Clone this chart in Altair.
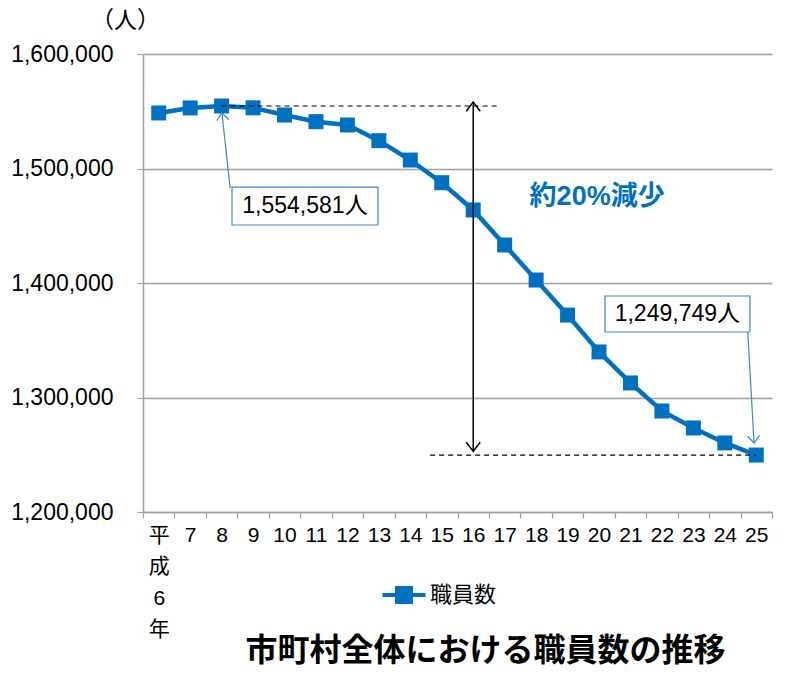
import altair as alt
import pandas as pd

# ---- data ----
years = ["6", "7", "8", "9", "10", "11", "12", "13", "14", "15",
         "16", "17", "18", "19", "20", "21", "22", "23", "24", "25"]
staff = [1548500, 1552900, 1554581, 1553000, 1546700, 1540900, 1538000,
         1524300, 1507400, 1487600, 1463800, 1433200, 1402600, 1372000,
         1339800, 1312700, 1288200, 1273400, 1260300, 1249749]
series_name = "職員数"
y_ticks = [1200000, 1300000, 1400000, 1500000, 1600000]

# annotation geometry (x in band units 0..20, y in persons)
dash_x = [2.5, 9.13]
dash_x2 = [11.35, 19.5]
dash_y = [1554581, 1249749]

varrow_x = [10.5]
varrow_y = [1558000]
varrow_y2 = [1253000]

head_x = [10.5, 10.5, 2.51, 19.43]
head_y = [1558000, 1253000, 1548470, 1260240]
head_angle = [0, 180, 354, 176]
head_kind = ["black", "black", "blue", "blue"]

call_x = [2.77, 19.23]
call_y = [1482960, 1357000]
call_x2 = [2.51, 19.43]
call_y2 = [1548470, 1260240]

box_x = [2.83, 14.69]
box_x2 = [7.47, 19.30]
box_y = [1483800, 1388640]
box_y2 = [1450650, 1357200]
box_text = ["1,554,581人", "1,249,749人"]
box_tx = [5.15, 16.99]
box_ty = [1467000, 1372900]

note_text = ["約20%減少"]
note_x = [14.44]
note_y = [1475100]

blue = "#0070C0"
cblue = "#3a87c8"
grid = "#a0a0a0"
FONT = "Liberation Sans, Noto Sans CJK JP"

W, H = 629, 458

df = pd.DataFrame({"year": years, "staff": staff, "series": series_name})

xband = alt.Scale(type="band", paddingInner=0, paddingOuter=0, domain=years)
yscale = alt.Scale(domain=[1200000, 1600000], nice=False, zero=False)

x_axis = alt.Axis(title=None, labelAngle=0, tickBand="extent",
                  labelExpr="datum.value == '6' ? ['平','成','6','年'] : datum.label",
                  labelFontSize=21, labelFont=FONT,
                  labelColor="black", labelLineHeight=31.5, labelPadding=6,
                  tickSize=6, tickColor=grid, domainColor=grid, domainWidth=1.5,
                  tickWidth=1.2, grid=False, labelBaseline="top")
y_axis = alt.Axis(values=y_ticks, format=",.0f", labelFontSize=23, labelFont=FONT,
                  labelColor="black", labelPadding=24, tickSize=6, tickColor=grid,
                  tickWidth=1.2, domainColor=grid, domainWidth=1.5,
                  gridColor=grid, gridWidth=1.5,
                  title="（人）", titleAngle=0, titleX=-18, titleY=-34,
                  titleAlign="center", titleBaseline="middle", titleFontSize=23,
                  titleFontWeight="normal", titleFont=FONT, titleColor="black")

color = alt.Color("series:N", scale=alt.Scale(domain=[series_name], range=[blue]),
                  legend=alt.Legend(title=None, orient="none", legendX=250, legendY=530,
                                    symbolType="M-3.07,0H3.07M-1,-1H1V1H-1Z",
                                    symbolSize=196, symbolStrokeWidth=4,
                                    symbolStrokeColor=blue, symbolFillColor=blue,
                                    labelFontSize=22, labelFont=FONT, labelColor="black",
                                    labelOffset=15, padding=0))

line = alt.Chart(df).mark_line(strokeWidth=4.5).encode(
    x=alt.X("year:N", scale=xband, sort=years, axis=x_axis),
    y=alt.Y("staff:Q", scale=yscale, axis=y_axis),
    color=color,
)

points = alt.Chart(df).mark_point(shape="square", filled=True, size=225, opacity=1).encode(
    x=alt.X("year:N", scale=xband, sort=years, axis=x_axis),
    y=alt.Y("staff:Q", scale=yscale, axis=y_axis),
    color=color,
)

main = alt.layer(line, points)

ax = alt.Scale(domain=[0, 20], nice=False, zero=False)

dash_df = pd.DataFrame({"x": dash_x, "x2": dash_x2, "y": dash_y})
dashes = alt.Chart(dash_df).mark_rule(color="black", strokeWidth=1.2, strokeDash=[5, 4]).encode(
    x=alt.X("x:Q", scale=ax, axis=None), x2="x2:Q",
    y=alt.Y("y:Q", scale=yscale, axis=None))

va_df = pd.DataFrame({"x": varrow_x, "y": varrow_y, "y2": varrow_y2})
varrow = alt.Chart(va_df).mark_rule(color="black", strokeWidth=1.5).encode(
    x=alt.X("x:Q", scale=ax, axis=None),
    y=alt.Y("y:Q", scale=yscale, axis=None), y2="y2:Q")

call_df = pd.DataFrame({"x": call_x, "y": call_y, "x2": call_x2, "y2": call_y2})
calls = alt.Chart(call_df).mark_rule(color=cblue, strokeWidth=1.2).encode(
    x=alt.X("x:Q", scale=ax, axis=None), x2="x2:Q",
    y=alt.Y("y:Q", scale=yscale, axis=None), y2="y2:Q")

head_df = pd.DataFrame({"x": head_x, "y": head_y, "a": head_angle, "k": head_kind})
heads_black = alt.Chart(head_df).transform_filter("datum.k == 'black'").mark_point(
    shape="M-1,1.3L0,0L1,1.3", filled=False, size=196, color="black", strokeWidth=1.5, opacity=1
).encode(x=alt.X("x:Q", scale=ax, axis=None), y=alt.Y("y:Q", scale=yscale, axis=None),
         angle=alt.Angle("a:Q", scale=None))
heads_blue = alt.Chart(head_df).transform_filter("datum.k == 'blue'").mark_point(
    shape="M-1,1.2L0,0L1,1.2", filled=False, size=144, color=cblue, strokeWidth=1.2, opacity=1
).encode(x=alt.X("x:Q", scale=ax, axis=None), y=alt.Y("y:Q", scale=yscale, axis=None),
         angle=alt.Angle("a:Q", scale=None))

box_df = pd.DataFrame({"x": box_x, "x2": box_x2, "y": box_y, "y2": box_y2,
                       "t": box_text, "tx": box_tx, "ty": box_ty})
boxes = alt.Chart(box_df).mark_rect(fill="white", stroke=cblue, strokeWidth=1.2).encode(
    x=alt.X("x:Q", scale=ax, axis=None), x2="x2:Q",
    y=alt.Y("y:Q", scale=yscale, axis=None), y2="y2:Q")
box_texts = alt.Chart(box_df).mark_text(fontSize=23, font=FONT, color="black",
                                        baseline="middle", align="center").encode(
    x=alt.X("tx:Q", scale=ax, axis=None), y=alt.Y("ty:Q", scale=yscale, axis=None), text="t:N")

note_df = pd.DataFrame({"x": note_x, "y": note_y, "t": note_text})
note = alt.Chart(note_df).mark_text(fontSize=27, font=FONT, fontWeight="bold", color=blue,
                                    baseline="middle", align="center").encode(
    x=alt.X("x:Q", scale=ax, axis=None), y=alt.Y("y:Q", scale=yscale, axis=None), text="t:N")

ann = alt.layer(dashes, varrow, calls, heads_black, heads_blue, boxes, box_texts, note)

chart = alt.layer(main, ann).resolve_scale(x="independent", y="independent").properties(
    width=W, height=H,
    autosize=alt.AutoSizeParams(type="none"),
    padding={"left": 135, "top": 46, "right": 7, "bottom": 160},
    title=alt.Title("市町村全体における職員数の推移", orient="bottom", anchor="middle",
                    fontSize=32, fontWeight="bold", font=FONT, color="black", dx=28, offset=-4),
).configure(background="white").configure_view(stroke="transparent", strokeWidth=0)

chart.save("out.html", embed_options={"renderer": "svg", "actions": False})
